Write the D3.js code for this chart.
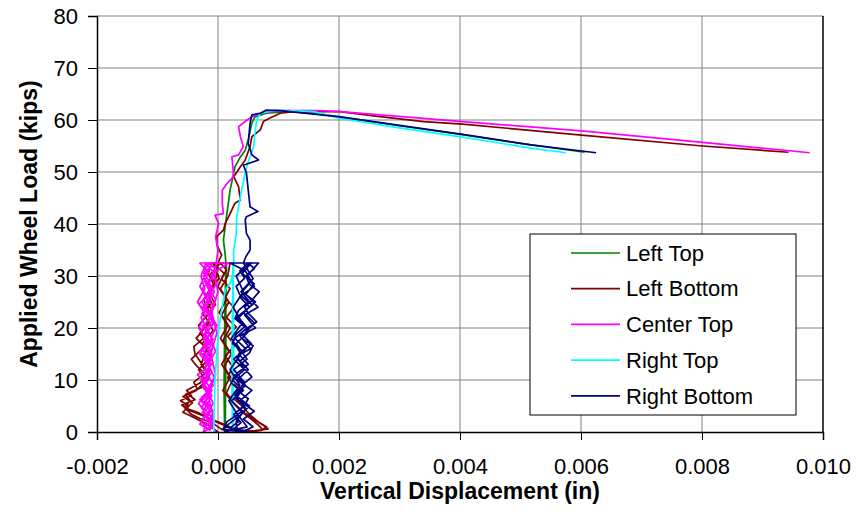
<!DOCTYPE html>
<html>
<head>
<meta charset="UTF-8">
<script src="https://d3js.org/d3.v7.min.js"></script>
<style>
  body { margin: 0; background: #fff; }
  text { font-family: "Liberation Sans", Arial, sans-serif; }
</style>
</head>
<body>
<svg id="canvas"></svg>
<script>
width = 858;
height = 525;

xTicks = [-0.002, 0.000, 0.002, 0.004, 0.006, 0.008, 0.010];
yTicks = [0, 10, 20, 30, 40, 50, 60, 70, 80];

seriesNames = ["Left Top", "Left Bottom", "Center Top", "Right Top", "Right Bottom"];
seriesColors = ["#008000", "#800000", "#ff00ff", "#00ffff", "#000080"];

// [displacement (in), load (kips)]
leftTop = [
  [0.00011,0],[0.00012,10],[0.00013,20],[0.00013,32.5],[0.00011,20],[0.00010,8],[0.00011,0],
  [0.00012,12],[0.00012,24],[0.00014,32.5],[0.00012,18],[0.00011,5],[0.00012,0.5],[0.00013,15],[0.00013,32.5],
  [0.00012,34],[0.00009,36.9],[0.00014,41.4],[0.00020,46.5],[0.00028,51.0],[0.00037,52.9],[0.00045,54.2],
  [0.00050,56.2],[0.00056,59.4],[0.00061,60.6],[0.00080,61.3],[0.00114,61.6],[0.00160,61.3],[0.00202,60.6],
  [0.00300,58.9],[0.00404,57.2],[0.00500,55.5],[0.00606,53.8]
];

leftBottom = [
  [0.00000,0],[-0.00018,1.5],[-0.00040,2.8],[-0.00058,3.8],[-0.00048,5],[-0.00062,6],[-0.00044,7],[-0.00052,8],
  [-0.00030,9.4],[-0.00016,11],[-0.00026,13],[-0.00038,15],[-0.00040,16.4],[-0.00024,18],[-0.00032,20.5],
  [-0.00014,23],[-0.00024,25.5],[-0.00006,28],[-0.00016,30.5],[-0.00010,32.5],[0.00020,32.5],
  [0.00016,30],[0.00004,27.5],[0.00018,25],[0.00006,22.5],[0.00020,20],[0.00008,17.5],[0.00022,15],[0.00010,12.5],
  [0.00024,10],[0.00014,7.5],[0.00030,5],[0.00046,3.5],[0.00062,2.2],[0.00076,1.2],[0.00083,0.6],[0.00060,0.2],[0.00030,0.4],
  [0.00010,1.5],[-0.00012,2.5],[-0.00034,3.8],[-0.00054,4.6],[-0.00042,5.6],[-0.00058,6.8],[-0.00036,8],[-0.00020,9.8],
  [-0.00032,12],[-0.00012,14.5],[-0.00026,17],[-0.00008,19.5],[-0.00020,22],[-0.00004,24.5],[-0.00016,27],[0.00002,29.5],[-0.00008,32.5],
  [0.00010,30.5],[0.00000,28],[0.00014,25.5],[0.00002,23],[0.00016,20.5],[0.00004,18],[0.00018,15.5],[0.00006,13],
  [0.00020,10.5],[0.00008,8],[0.00026,5.5],[0.00040,3.8],[0.00056,2.4],[0.00068,1.2],[0.00074,0.4],[0.00045,0.1],
  [0.00006,0.5],[-0.00010,1.8],[-0.00030,2.6],[-0.00044,3.4],[-0.00056,4.8],[-0.00046,6],[-0.00054,7.2],[-0.00034,8.2],
  [-0.00040,9.6],[-0.00022,11.2],[-0.00036,12.8],[-0.00044,14],[-0.00028,15.8],[-0.00018,17.4],[-0.00030,19],[-0.00014,21],
  [-0.00026,22.8],[-0.00010,24.8],[-0.00018,26.6],[-0.00004,28.4],[-0.00012,30.4],[0.00004,32.5],
  [0.00014,31.2],[0.00006,29.4],[0.00020,27.6],[0.00012,25.8],[0.00026,24],[0.00014,22],[0.00030,20.2],[0.00016,18.4],
  [0.00028,16.6],[0.00012,14.6],[0.00024,12.6],[0.00016,10.4],[0.00034,8.4],[0.00022,6.8],[0.00040,5],[0.00052,3.4],
  [0.00066,2],[0.00080,1],[0.00072,0.3],[0.00050,0],
  [0.00020,0.8],[-0.00004,2],[-0.00026,3.2],[-0.00048,4.2],[-0.00060,5.2],[-0.00038,6.2],[-0.00050,7.4],[-0.00026,8.6],
  [-0.00014,10.5],[-0.00028,13],[-0.00018,16],[-0.00036,18],[-0.00022,20],[-0.00010,23],[-0.00020,26],[-0.00004,29],[0.00000,32.5],
  [0.00006,34],[-0.00002,36],[-0.00002,37.6],[0.00009,38.8],[0.00012,40.1],[0.00020,42.0],[0.00028,44.0],[0.00037,44.6],
  [0.00034,47.2],[0.00026,49.1],[0.00037,51.0],[0.00045,52.3],[0.00053,54.9],[0.00056,56.8],[0.00070,58.1],[0.00075,59.7],
  [0.00084,60.3],[0.00103,61.3],[0.00125,61.6],[0.00202,61.6],[0.00257,60.8],[0.00340,59.7],[0.00404,59.2],
  [0.00601,57.1],[0.00801,55.0],[0.00943,53.8]
];

centerTop = [
  [-0.00004,0],[-0.00014,2],[-0.00008,4],[-0.00020,6],[-0.00010,8],[-0.00022,10],[-0.00012,13],[-0.00026,16],
  [-0.00014,19],[-0.00028,22],[-0.00016,25],[-0.00030,28],[-0.00018,31],[-0.00030,32.5],[0.00017,32.5],
  [-0.00002,31],[-0.00016,29],[-0.00006,27],[-0.00020,24],[-0.00008,21],[-0.00024,18],[-0.00010,15],[-0.00022,12],
  [-0.00008,9],[-0.00026,6],[-0.00012,4],[-0.00028,2],[-0.00016,0.5],
  [-0.00030,1.5],[-0.00020,3.5],[-0.00032,5.5],[-0.00018,7.5],[-0.00028,10],[-0.00014,12.5],[-0.00030,15],[-0.00016,17.5],
  [-0.00032,20],[-0.00020,22.5],[-0.00034,25],[-0.00022,27.5],[-0.00028,30],[-0.00020,32.5],
  [-0.00006,30.5],[-0.00018,28],[-0.00004,25.5],[-0.00014,23],[-0.00002,20.5],[-0.00012,18],[-0.00004,15.5],[-0.00016,13],
  [-0.00006,10.5],[-0.00018,8],[-0.00008,5.5],[-0.00020,3],[-0.00010,1],[-0.00024,0],
  [-0.00018,2.5],[-0.00026,5],[-0.00014,7],[-0.00024,9.5],[-0.00010,11.5],[-0.00020,14],[-0.00008,16.5],[-0.00022,19],
  [-0.00010,21.5],[-0.00024,24],[-0.00012,26.5],[-0.00022,29],[-0.00010,32.5],
  [-0.00024,30],[-0.00012,27.5],[-0.00026,25],[-0.00014,22],[-0.00028,19.5],[-0.00016,17],[-0.00026,14.5],[-0.00012,12],
  [-0.00024,9.5],[-0.00010,7],[-0.00022,4.5],[-0.00006,2],[-0.00018,0.5],
  [-0.00022,1],[-0.00012,2.2],[-0.00026,3.8],[-0.00016,4.6],[-0.00030,6.2],[-0.00024,7],[-0.00012,8.4],[-0.00020,9.6],
  [-0.00034,11],[-0.00022,12],[-0.00018,13.8],[-0.00030,15.6],[-0.00020,16.4],[-0.00008,17.8],[-0.00018,19.2],[-0.00026,20.4],
  [-0.00012,21.8],[-0.00020,23.4],[-0.00032,24.6],[-0.00018,26],[-0.00026,27.6],[-0.00014,29],[-0.00024,30.6],[-0.00016,32.5],
  [-0.00004,31.4],[-0.00012,30],[-0.00002,28.8],[-0.00010,27],[-0.00020,25.8],[-0.00008,24.2],[-0.00016,22.6],[-0.00006,21],
  [-0.00014,19.8],[-0.00024,18.2],[-0.00012,16.6],[-0.00018,15],[-0.00008,13.4],[-0.00020,11.8],[-0.00014,10.2],[-0.00026,8.8],
  [-0.00016,7.2],[-0.00022,5.8],[-0.00010,4.4],[-0.00018,2.8],[-0.00008,1.4],[-0.00014,0.3],
  [-0.00008,3],[-0.00016,7],[-0.00004,11],[-0.00012,15],[-0.00002,19],[-0.00010,23],[0.00000,27],[-0.00006,30],[-0.00003,32.5],
  [0.00000,35],[-0.00004,37.5],[0.00001,40.1],[-0.00005,41.7],[0.00009,42.0],[0.00007,44.0],[0.00007,46.5],[0.00015,47.8],
  [0.00026,49.1],[0.00023,52.9],[0.00034,53.3],[0.00042,54.9],[0.00037,56.8],[0.00034,58.7],[0.00048,60.0],[0.00056,60.6],
  [0.00070,61.3],[0.00103,61.8],[0.00169,61.8],[0.00202,61.6],[0.00340,60.3],[0.00404,59.7],[0.00601,57.9],
  [0.00801,55.7],[0.00978,53.7]
];

rightTop = [
  [-0.00007,0],[-0.00005,10],[-0.00002,15.1],[0.00001,19.6],[0.00007,24.1],[0.00012,27.3],[0.00020,28.6],[0.00024,30],[0.00025,32.5],
  [0.00024,22],[0.00023,10],[0.00024,0],[0.00026,15],[0.00025,32.5],[0.00023,15],[0.00025,0.5],[0.00024,20],[0.00026,32.5],
  [0.00026,35],[0.00030,38],[0.00031,41.4],[0.00039,46.5],[0.00045,49.8],[0.00050,52.0],[0.00059,54.9],[0.00061,57.4],
  [0.00064,60.0],[0.00070,61.3],[0.00097,61.9],[0.00158,61.6],[0.00202,60.3],[0.00300,58.5],[0.00404,56.7],
  [0.00517,54.6],[0.00575,53.7]
];

rightBottom = [
  [0.00010,0],[0.00030,0.5],[0.00048,1],[0.00035,3],[0.00052,5],[0.00030,7],[0.00045,9],[0.00028,11],[0.00050,13],
  [0.00034,15],[0.00055,17],[0.00038,19],[0.00060,21],[0.00042,23],[0.00062,25],[0.00040,27],[0.00055,29],[0.00045,31],
  [0.00020,32.5],[0.00067,32.5],
  [0.00048,30],[0.00060,28],[0.00036,26],[0.00052,24],[0.00030,22],[0.00048,20],[0.00028,18],[0.00046,16],[0.00026,14],
  [0.00044,12],[0.00024,10],[0.00042,8],[0.00022,6],[0.00040,4],[0.00015,2],[0.00008,0.5],
  [0.00040,0],[0.00058,1],[0.00042,2.5],[0.00060,4],[0.00036,6],[0.00056,8],[0.00032,10],[0.00050,12],[0.00030,14.5],
  [0.00054,16],[0.00036,18.5],[0.00062,20],[0.00044,22.5],[0.00066,24],[0.00046,26.5],[0.00060,28.5],[0.00040,30.5],[0.00055,32.5],
  [0.00030,30],[0.00042,27],[0.00025,24],[0.00040,21],[0.00022,18],[0.00038,15],[0.00020,12],[0.00036,9],[0.00018,6],
  [0.00034,3],[0.00012,1],[0.00050,0],
  [0.00024,0.4],[0.00038,1.8],[0.00026,3.4],[0.00044,5.2],[0.00050,6.4],[0.00034,7.8],[0.00040,9],[0.00056,10.6],
  [0.00042,12.4],[0.00036,13.6],[0.00052,15.2],[0.00058,16.6],[0.00040,18],[0.00048,19.6],[0.00064,21.2],[0.00050,22.8],
  [0.00044,24],[0.00058,25.6],[0.00068,27],[0.00052,28.4],[0.00046,30],[0.00060,31.4],[0.00050,32.5],
  [0.00036,31],[0.00044,29.6],[0.00030,28],[0.00036,26.4],[0.00050,25],[0.00034,23.4],[0.00028,21.8],[0.00044,20.2],
  [0.00030,18.8],[0.00024,17],[0.00040,15.6],[0.00032,14],[0.00046,12.6],[0.00028,11],[0.00022,9.4],[0.00038,7.8],
  [0.00030,6.4],[0.00044,5],[0.00026,3.4],[0.00034,2],[0.00020,0.8],[0.00032,0],
  [0.00030,2],[0.00046,4.5],[0.00028,7],[0.00044,9.5],[0.00026,12],[0.00048,14],[0.00030,17],[0.00052,19.5],[0.00034,22],
  [0.00056,24.5],[0.00038,27],[0.00058,29.5],[0.00042,32.5],
  [0.00046,33.7],[0.00053,35.0],[0.00053,36.9],[0.00047,38.2],[0.00045,40.8],[0.00047,41.4],[0.00066,42.4],[0.00053,43.3],
  [0.00050,46.5],[0.00047,49.8],[0.00042,51.3],[0.00067,52.3],[0.00056,53.3],[0.00050,55.5],[0.00053,59.4],[0.00056,61.0],
  [0.00070,61.3],[0.00080,61.9],[0.00103,61.8],[0.00202,60.6],[0.00404,57.25],[0.00517,55.2],[0.00625,53.7]
];

seriesData = [leftTop, leftBottom, centerTop, rightTop, rightBottom];

const plotLeft = 97, plotRight = 823, plotTop = 16, plotBottom = 432;

canvas = d3.select("#canvas")
    .attr("width", width)
    .attr("height", height);

x = d3.scaleLinear().domain([-0.002, 0.010]).range([plotLeft, plotRight]);
y = d3.scaleLinear().domain([0, 80]).range([plotBottom, plotTop]);

// grid
canvas.append("g")
    .selectAll("line")
    .data(yTicks.slice(1))
    .enter().append("line")
        .attr("x1", plotLeft).attr("x2", plotRight)
        .attr("y1", d => y(d)).attr("y2", d => y(d))
        .attr("style", "stroke:#808080; stroke-width:1;");

canvas.append("g")
    .selectAll("line")
    .data(xTicks.slice(1, -1))
    .enter().append("line")
        .attr("x1", d => x(d)).attr("x2", d => x(d))
        .attr("y1", plotTop).attr("y2", plotBottom)
        .attr("style", "stroke:#808080; stroke-width:1;");

// right border
canvas.append("line")
    .attr("x1", plotRight).attr("x2", plotRight)
    .attr("y1", plotTop).attr("y2", plotBottom)
    .attr("style", "stroke:#000; stroke-width:1.5;");

// data
line = d3.line()
    .x(d => x(d[0]))
    .y(d => y(d[1]));

canvas.append("g")
    .selectAll("path")
    .data(seriesData)
    .enter().append("path")
        .attr("d", line)
        .attr("fill", "none")
        .attr("stroke", (d, i) => seriesColors[i])
        .attr("stroke-width", 1.7)
        .attr("stroke-linejoin", "round");

// axes
xAxis = d3.axisBottom(x)
    .tickValues(xTicks)
    .tickFormat(d => d.toFixed(3))
    .tickSize(8)
    .tickPadding(18);

yAxis = d3.axisLeft(y)
    .tickValues(yTicks)
    .tickFormat(d => d)
    .tickSize(9)
    .tickPadding(10);

gx = canvas.append("g")
    .attr("transform", "translate(0," + plotBottom + ")")
    .call(xAxis);
gy = canvas.append("g")
    .attr("transform", "translate(" + plotLeft + ",0)")
    .call(yAxis);

[gx, gy].forEach(g => {
    g.select(".domain").attr("stroke", "#000").attr("stroke-width", 1.5);
    g.selectAll(".tick line").attr("stroke", "#000").attr("stroke-width", 1);
    g.selectAll(".tick text")
        .attr("fill", "#000")
        .style("font-size", "22px")
        .style("font-family", "'Liberation Sans', Arial, sans-serif");
});

// titles
canvas.append("text")
    .attr("x", (plotLeft + plotRight) / 2)
    .attr("y", 499)
    .attr("text-anchor", "middle")
    .style("font-size", "23px")
    .style("font-weight", "bold")
    .text("Vertical Displacement (in)");

canvas.append("text")
    .attr("transform", "translate(29," + ((plotTop + plotBottom) / 2) + ") rotate(-90)")
    .attr("dy", "0.35em")
    .attr("text-anchor", "middle")
    .style("font-size", "23px")
    .style("font-weight", "bold")
    .text("Applied Wheel Load (kips)");

// legend
legend = canvas.append("g");
legend.append("rect")
    .attr("x", 530).attr("y", 234)
    .attr("width", 266).attr("height", 181)
    .attr("style", "fill:#fff; stroke:#000; stroke-width:1;");

rows = legend.selectAll("g.row")
    .data(seriesNames)
    .enter().append("g")
        .attr("class", "row")
        .attr("transform", (d, i) => "translate(0," + (253 + i * 35.7) + ")");

rows.append("line")
    .attr("x1", 571).attr("x2", 620)
    .attr("y1", 0).attr("y2", 0)
    .attr("stroke", (d, i) => seriesColors[i])
    .attr("stroke-width", 1.7);

rows.append("text")
    .attr("x", 626)
    .attr("dy", "0.35em")
    .style("font-size", "22px")
    .text(d => d);
</script>
</body>
</html>
